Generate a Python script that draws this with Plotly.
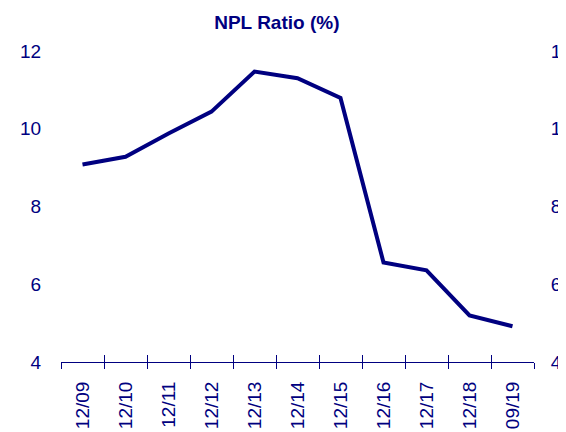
import plotly.graph_objects as go

categories = ["12/09", "12/10", "12/11", "12/12", "12/13", "12/14", "12/15", "12/16", "12/17", "12/18", "09/19"]
npl_ratio = [9.08, 9.28, 9.88, 10.44, 11.47, 11.3, 10.79, 6.56, 6.36, 5.2, 4.92]
y_ticks = [4, 6, 8, 10, 12]

NAVY = "#000080"
CLEAR = "rgba(0,0,0,0)"
FONT = "Liberation Sans, Arial, sans-serif"

fig = go.Figure()
fig.add_trace(go.Scatter(x=categories, y=npl_ratio, mode="lines",
                         line=dict(color=NAVY, width=4), showlegend=False,
                         xaxis="x", yaxis="y"))
# invisible companions so the overlaid axes render
fig.add_trace(go.Scatter(x=categories, y=npl_ratio, mode="lines",
                         line=dict(color=CLEAR, width=0), showlegend=False,
                         hoverinfo="skip", xaxis="x2", yaxis="y2"))

fig.update_layout(
    width=566, height=424,
    margin=dict(l=53, r=39.5, t=43, b=70, autoexpand=False),
    paper_bgcolor="white", plot_bgcolor="white",
    font=dict(family=FONT, color=NAVY, size=19),
    title=dict(text="<b>NPL Ratio (%)</b>", x=0.475, xref="container", xanchor="center",
               y=0.967, yref="container", yanchor="middle",
               font=dict(family=FONT, size=19, color=NAVY)),
    xaxis=dict(type="category", range=[-0.5, 10.5], tickson="boundaries",
               ticks="outside", ticklen=6, tickcolor=NAVY, tickwidth=1,
               showline=True, linecolor=NAVY, linewidth=1, showgrid=False, zeroline=False,
               tickangle=-90, tickfont=dict(size=19, color=NAVY), ticklabelstandoff=11,
               automargin=False),
    xaxis2=dict(type="category", range=[-0.5, 10.5], overlaying="x", side="bottom",
                tickson="boundaries", ticks="inside", ticklen=7, tickcolor=NAVY, tickwidth=1,
                showline=False, showgrid=False, zeroline=False, showticklabels=False,
                anchor="y", automargin=False),
    yaxis=dict(range=[4, 12], tickvals=y_ticks, showline=False, showgrid=False, zeroline=False,
               ticks="outside", ticklen=15, tickcolor=CLEAR,
               tickfont=dict(size=19, color=NAVY), automargin=False),
    yaxis2=dict(range=[4, 12], tickvals=y_ticks, overlaying="y", side="right",
                showline=False, showgrid=False, zeroline=False,
                ticks="outside", ticklen=12, tickcolor=CLEAR,
                tickfont=dict(size=19, color=NAVY), automargin=False),
)

fig.write_html("out.html")
